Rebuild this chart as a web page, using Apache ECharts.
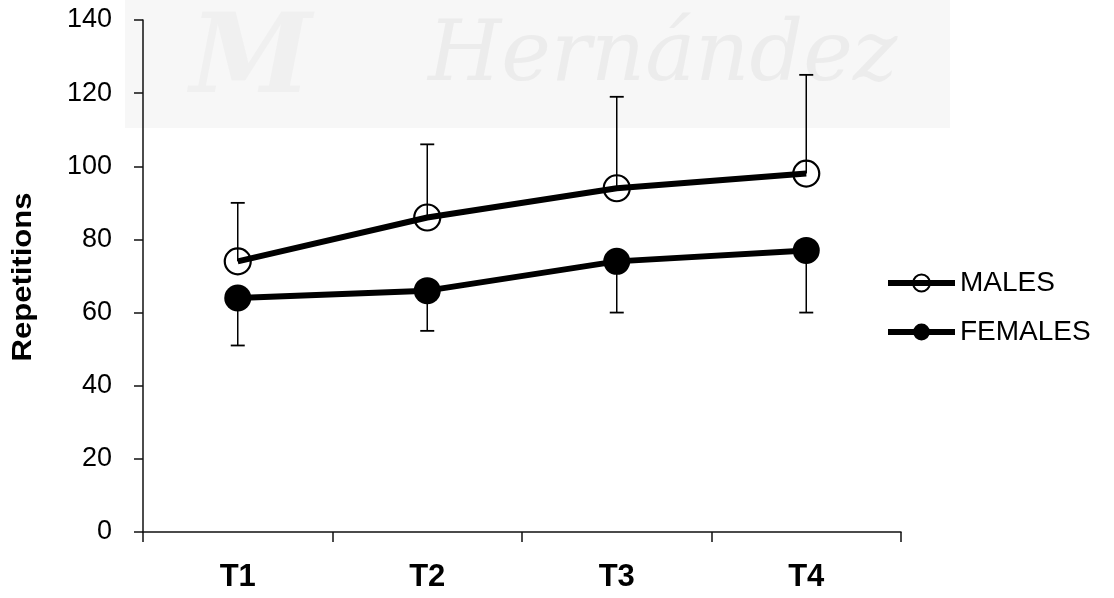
<!DOCTYPE html>
<html>
<head>
<meta charset="utf-8">
<script src="https://cdn.jsdelivr.net/npm/echarts@6/dist/echarts.min.js"></script>
<style>
  html, body { margin: 0; padding: 0; background: #fff; }
  #chart { width: 1114px; height: 598px; }
</style>
</head>
<body>
<div id="chart"></div>
<script>
// Test sessions
const categories = ['T1', 'T2', 'T3', 'T4'];
// Mean repetitions and standard deviations
const malesMean = [74, 86, 94, 98];
const malesSD = [16, 20, 25, 27];
const femalesMean = [64, 66, 74, 77];
const femalesSD = [13, 11, 14, 17];
// Y axis range
const yMin = 0;
const yMax = 140;
const yStep = 20;

const FONT = '"Liberation Sans", Arial, sans-serif';

// One-sided error bars: dir = +1 draws upward, -1 downward
function errorBars(name, means, sds, dir) {
  return {
    type: 'custom',
    name: name,
    z: 1,
    silent: true,
    data: categories.map((c, i) => [i, means[i], means[i] + dir * sds[i]]),
    encode: { x: 0, y: [1, 2] },
    renderItem(params, api) {
      const start = api.coord([api.value(0), api.value(1)]);
      const end = api.coord([api.value(0), api.value(2)]);
      const hw = 7;
      return {
        type: 'group',
        children: [
          { type: 'line', shape: { x1: start[0], y1: start[1], x2: end[0], y2: end[1] },
            style: { stroke: '#000', lineWidth: 1.5 } },
          { type: 'line', shape: { x1: end[0] - hw, y1: end[1], x2: end[0] + hw, y2: end[1] },
            style: { stroke: '#000', lineWidth: 1.8 } }
        ]
      };
    }
  };
}

const chart = echarts.init(document.getElementById('chart'));
chart.setOption({
  animation: false,
  backgroundColor: '#fff',
  grid: { left: 143, right: 213, top: 20, bottom: 66 },
  graphic: [
    // faint background band with lettering
    { type: 'rect', z: -10, silent: true,
      shape: { x: 125, y: 0, width: 825, height: 128 },
      style: { fill: '#f7f7f7' } },
    { type: 'text', z: -9, silent: true, left: 428, top: 16,
      style: { text: 'Hernández', font: 'italic 84px "DejaVu Serif", serif', fill: '#ececec' } },
    { type: 'text', z: -9, silent: true, left: 190, top: 8,
      style: { text: 'M', font: 'italic bold 110px "DejaVu Serif", serif', fill: '#f0f0f0' } },
    // y axis title
    { type: 'text', z: 10, silent: true,
      x: 24, y: 277, rotation: Math.PI / 2, scaleX: 1.15,
      style: { text: 'Repetitions', fontFamily: FONT, fontSize: 27, fontWeight: 'bold',
               fill: '#000', align: 'center', verticalAlign: 'middle' } }
  ],
  legend: {
    data: ['MALES', 'FEMALES'],
    orient: 'vertical',
    left: 885,
    top: 269,
    padding: 0,
    itemWidth: 67,
    itemHeight: 21,
    itemGap: 21,
    lineStyle: { width: 6, color: '#000' },
    textStyle: { fontFamily: FONT, fontSize: 28, color: '#000', lineHeight: 28, padding: [0, 0, 0, 0] }
  },
  xAxis: {
    type: 'category',
    data: categories,
    boundaryGap: true,
    axisLine: { lineStyle: { color: '#111', width: 1.5 } },
    axisTick: { show: true, length: 10, inside: false, lineStyle: { color: '#111', width: 1.5 } },
    axisLabel: { fontFamily: FONT, fontSize: 31, fontWeight: 'bold', color: '#000', margin: 30 },
    splitLine: { show: false }
  },
  yAxis: {
    type: 'value',
    min: yMin,
    max: yMax,
    interval: yStep,
    axisLine: { show: true, lineStyle: { color: '#111', width: 1.5 } },
    axisTick: { show: true, length: 9, lineStyle: { color: '#111', width: 1.5 } },
    axisLabel: { fontFamily: FONT, fontSize: 27, color: '#000', margin: 31 },
    splitLine: { show: false }
  },
  series: [
    errorBars('MALES-err', malesMean, malesSD, 1),
    errorBars('FEMALES-err', femalesMean, femalesSD, -1),
    {
      name: 'MALES',
      type: 'line',
      z: 3,
      data: malesMean,
      symbol: 'circle',
      symbolSize: 26,
      lineStyle: { color: '#000', width: 6 },
      itemStyle: { color: 'rgba(255,255,255,0)', borderColor: '#000', borderWidth: 2.2 }
    },
    {
      name: 'FEMALES',
      type: 'line',
      z: 3,
      data: femalesMean,
      symbol: 'circle',
      symbolSize: 27,
      lineStyle: { color: '#000', width: 6 },
      itemStyle: { color: '#000', borderColor: '#000', borderWidth: 0 }
    }
  ]
});
</script>
</body>
</html>
